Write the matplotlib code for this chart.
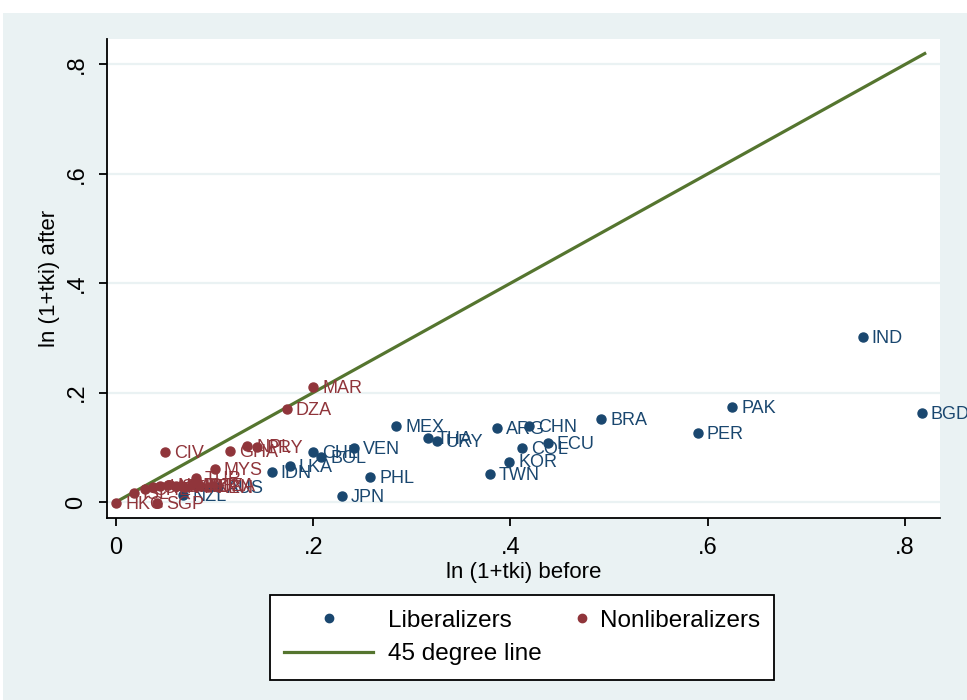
import matplotlib
matplotlib.use('Agg')
import matplotlib.pyplot as plt
from matplotlib.lines import Line2D
from matplotlib.patches import Rectangle
from matplotlib.legend_handler import HandlerLine2D

# Liberalizers (blue)
lib_names = ['IND', 'BGD', 'PAK', 'PER', 'BRA', 'CHN', 'ARG', 'ECU', 'COL', 'KOR',
             'TWN', 'MEX', 'THA', 'URY', 'VEN', 'CHL', 'BOL', 'PHL', 'JPN', 'LKA',
             'IDN', 'AUS', 'NZL']
lib_before = [0.757, 0.817, 0.625, 0.590, 0.492, 0.419, 0.386, 0.438, 0.412, 0.399,
              0.379, 0.284, 0.316, 0.325, 0.241, 0.200, 0.208, 0.258, 0.229, 0.176,
              0.158, 0.103, 0.068]
lib_after = [0.302, 0.163, 0.174, 0.126, 0.152, 0.139, 0.135, 0.108, 0.098, 0.074,
             0.051, 0.139, 0.117, 0.112, 0.099, 0.091, 0.082, 0.046, 0.011, 0.066,
             0.055, 0.028, 0.013]

# Nonliberalizers (red)
non_names = ['MAR', 'DZA', 'CIV', 'GHA', 'NPL', 'PRY', 'MYS', 'TUR', 'HKG', 'SGP',
             'ISL', 'CHE', 'CAN', 'USA', 'NOR', 'SWE', 'FIN', 'JOR', 'TUN', 'KEN', 'TZA']
non_before = [0.200, 0.173, 0.050, 0.116, 0.133, 0.143, 0.100, 0.081, 0.000, 0.042,
              0.018, 0.029, 0.038, 0.045, 0.053, 0.061, 0.069, 0.077, 0.085, 0.093, 0.098]
non_after = [0.210, 0.170, 0.091, 0.093, 0.102, 0.100, 0.060, 0.044, -0.002, -0.002,
             0.016, 0.024, 0.027, 0.029, 0.031, 0.029, 0.027, 0.031, 0.029, 0.027, 0.030]

line_x = [0, 0.82]
line_y = [0, 0.82]

ticks = [0, 0.2, 0.4, 0.6, 0.8]
tick_labels = ['0', '.2', '.4', '.6', '.8']

navy = '#1a476f'
maroon = '#90353b'
green = '#55752f'
bg = '#eaf2f3'

plt.rcParams['font.family'] = ['Liberation Sans', 'DejaVu Sans']


# legend marker sits at the right end of its slot (as in the Stata legend)
class RightMarker(HandlerLine2D):
    def get_xdata(self, legend, xdescent, ydescent, width, height, fontsize):
        xm = -xdescent + width - 0.1 * fontsize
        return [xm - 0.01, xm + 0.01], [xm]


fig = plt.figure(figsize=(9.67, 7), dpi=100)
fig.patch.set_facecolor('white')
fig.patches.append(Rectangle((3 / 967, 0), 1, 687 / 700, transform=fig.transFigure,
                             facecolor=bg, edgecolor='none', zorder=-10))

ax = fig.add_axes([107 / 967, 182 / 700, 833 / 967, 479 / 700])
ax.set_facecolor('white')

for v in ticks:
    ax.axhline(v, color=bg, lw=1.6, zorder=0)

ax.plot(line_x, line_y, color=green, lw=2.3, zorder=2)
ax.plot(lib_before, lib_after, 'o', color=navy, ms=6.5, zorder=3)
ax.plot(non_before, non_after, 'o', color=maroon, ms=6.5, zorder=3)

for n, x, y in zip(lib_names, lib_before, lib_after):
    ax.annotate(n, (x, y), xytext=(6.5, -1), textcoords='offset points',
                va='center', ha='left', fontsize=13, color=navy, zorder=4)
for n, x, y in zip(non_names, non_before, non_after):
    ax.annotate(n, (x, y), xytext=(6.5, -1), textcoords='offset points',
                va='center', ha='left', fontsize=13, color=maroon, zorder=4)

ax.set_xlim(-0.0091, 0.8355)
ax.set_ylim(-0.0293, 0.8466)
ax.set_xticks(ticks)
ax.set_xticklabels(tick_labels)
ax.set_yticks(ticks)
ax.set_yticklabels(tick_labels, rotation=90, va='center')
ax.tick_params(axis='both', length=6, width=1.3, labelsize=17, color='black')
ax.tick_params(axis='x', pad=8)
ax.tick_params(axis='y', pad=8)
for s in ['top', 'right']:
    ax.spines[s].set_visible(False)
for s in ['left', 'bottom']:
    ax.spines[s].set_linewidth(1.3)

ax.set_xlabel('ln (1+tki) before', fontsize=16, labelpad=2)
ax.set_ylabel('ln (1+tki) after', fontsize=16, labelpad=4)

h_lib = Line2D([], [], marker='o', ls='none', color=navy, ms=6)
h_line = Line2D([], [], color=green, lw=2.3)
h_non = Line2D([], [], marker='o', ls='none', color=maroon, ms=6)
handles = [h_lib, h_line, h_non]
labels = ['Liberalizers', '45 degree line', 'Nonliberalizers']
leg = fig.legend(handles, labels, ncol=2, loc='upper center',
                 bbox_to_anchor=(522 / 967, 1 - 595 / 700), fontsize=17.5,
                 handlelength=3.66, handletextpad=0.62, columnspacing=-1.9,
                 frameon=True, fancybox=False, framealpha=1,
                 borderpad=0.6, labelspacing=0.47,
                 borderaxespad=0, handler_map={h_non: RightMarker()})
leg.get_frame().set_facecolor('white')
leg.get_frame().set_edgecolor('black')
leg.get_frame().set_linewidth(1.3)

fig.savefig('out.png', dpi=100, facecolor=fig.get_facecolor())
